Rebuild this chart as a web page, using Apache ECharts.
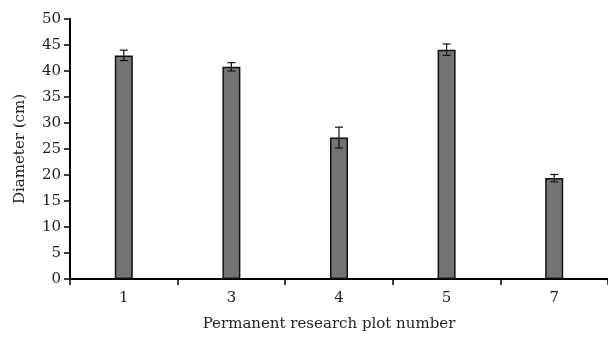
<!DOCTYPE html>
<html><head><meta charset="utf-8">
<script src="https://cdn.jsdelivr.net/npm/echarts@6/dist/echarts.min.js"></script>
<style>html,body{margin:0;padding:0;background:#fff}#c{width:608px;height:338px}</style>
</head><body><div id="c"></div>
<script>
var categories = ['1', '3', '4', '5', '7'];
var diameters = [43.0, 40.8, 27.2, 44.1, 19.4];
var errors = [1.0, 0.8, 2.0, 1.1, 0.7];
var yTicks = [0, 5, 10, 15, 20, 25, 30, 35, 40, 45, 50];

var font = 'DejaVu Serif';
var chart = echarts.init(document.getElementById('c'));
var errData = categories.map(function (c, i) { return [i, diameters[i] - errors[i], diameters[i] + errors[i]]; });
chart.setOption({
  animation: false,
  grid: { left: 70, right: 0, top: 19, bottom: 59, containLabel: false },
  xAxis: {
    type: 'category', data: categories,
    name: 'Permanent research plot number', nameLocation: 'middle', nameGap: 38,
    nameTextStyle: { fontFamily: font, fontSize: 15, color: '#231f20', padding: [0, 20, 0, 0] },
    axisLine: { lineStyle: { color: '#000', width: 2 } },
    axisTick: { show: true, length: 6, lineStyle: { color: '#000', width: 1.5 } },
    axisLabel: { fontFamily: font, fontSize: 15, color: '#231f20', margin: 12 }
  },
  yAxis: {
    type: 'value', min: 0, max: 50, interval: 5,
    name: 'Diameter (cm)', nameLocation: 'middle', nameGap: 42,
    nameTextStyle: { fontFamily: font, fontSize: 15, color: '#231f20' },
    axisLine: { show: true, lineStyle: { color: '#000', width: 2 } },
    axisTick: { show: true, length: 6, lineStyle: { color: '#000', width: 1.5 } },
    axisLabel: { fontFamily: font, fontSize: 15, color: '#231f20', margin: 9,
      formatter: function (v) { return yTicks.indexOf(v) >= 0 ? String(v) : ''; } },
    splitLine: { show: false }
  },
  series: [{
    type: 'bar', data: diameters, barWidth: 18,
    itemStyle: { color: '#727578', borderColor: '#111', borderWidth: 1.5 }
  }, {
    type: 'custom', data: errData, z: 10,
    renderItem: function (params, api) {
      var x = api.value(0);
      var lo = api.coord([x, api.value(1)]);
      var hi = api.coord([x, api.value(2)]);
      var w = 4;
      var st = { stroke: '#111', lineWidth: 1.2 };
      return { type: 'group', children: [
        { type: 'line', shape: { x1: lo[0], y1: lo[1], x2: hi[0], y2: hi[1] }, style: st },
        { type: 'line', shape: { x1: lo[0] - w, y1: lo[1], x2: lo[0] + w, y2: lo[1] }, style: st },
        { type: 'line', shape: { x1: hi[0] - w, y1: hi[1], x2: hi[0] + w, y2: hi[1] }, style: st }
      ]};
    }
  }]
});
</script></body></html>
